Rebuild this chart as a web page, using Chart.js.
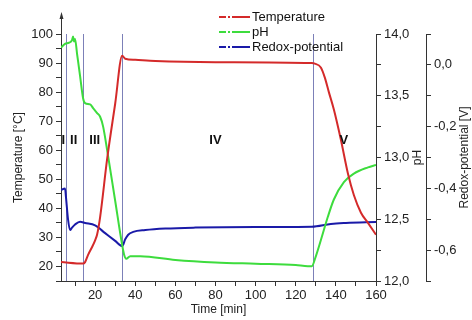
<!DOCTYPE html>
<html>
<head>
<meta charset="utf-8">
<script src="https://cdn.jsdelivr.net/npm/chart.js@4/dist/chart.umd.min.js"></script>
<style>
  body { margin: 0; background: #fff; }
  canvas { display: block; }
</style>
</head>
<body>
<canvas id="chart" width="472" height="320"></canvas>
<script>
// temperature (left axis)
const tempTime = [3, 14, 15, 16.5, 18.5, 20, 21, 22.5, 26, 30, 33.5, 35, 40, 50, 80, 128, 129.5, 132.5, 134.5, 136.5, 139, 142.5, 146, 149, 152.5, 156, 160];
const tempValues = [21.5, 21, 21.5, 24, 26.7, 29, 31, 37, 57, 76, 92.5, 91.5, 91.1, 90.7, 90.3, 90, 89.8, 88.5, 85, 80, 74, 63.6, 52, 44.5, 38.5, 35, 30.9];

// pH (first right axis)
const phTime = [3, 5, 7, 8.5, 9, 9.5, 10, 11, 12.5, 14, 15, 17.5, 19, 21, 22.5, 24, 26, 30, 33.5, 34.5, 35.5, 37.5, 42.5, 60, 80, 100, 120, 126, 128, 130, 132.5, 136, 139, 144, 149, 156, 160];
const phValues = [13.89, 13.92, 13.93, 13.95, 13.98, 13.94, 13.96, 13.84, 13.66, 13.48, 13.44, 13.43, 13.40, 13.36, 13.33, 13.25, 13.06, 12.65, 12.29, 12.21, 12.18, 12.2, 12.2, 12.17, 12.15, 12.14, 12.13, 12.12, 12.12, 12.2, 12.33, 12.52, 12.66, 12.8, 12.87, 12.92, 12.94];

// redox potential (second right axis)
const redoxTime = [3, 5, 5.5, 6.5, 7.5, 8.5, 10, 12.5, 15, 20, 25, 30, 33.5, 35, 36.5, 39, 45, 55, 70, 100, 128, 137.5, 145, 160];
const redoxValues = [-0.405, -0.40, -0.43, -0.50, -0.535, -0.527, -0.517, -0.508, -0.512, -0.52, -0.545, -0.57, -0.587, -0.565, -0.55, -0.541, -0.535, -0.53, -0.527, -0.525, -0.524, -0.515, -0.512, -0.509];

// phase boundaries and labels
const phaseLines = [5.3, 14.2, 33.5, 128.8];
const phaseLabels = ['I', 'II', 'III', 'IV', 'V'];
const phaseLabelTime = [4.2, 9.3, 19.8, 80, 144];

const xTicks = [10, 20, 30, 40, 50, 60, 70, 80, 90, 100, 110, 120, 130, 140, 150, 160];
const tempTicks = [15, 20, 25, 30, 35, 40, 45, 50, 55, 60, 65, 70, 75, 80, 85, 90, 95, 100];
const phTicks = [12, 12.25, 12.5, 12.75, 13, 13.25, 13.5, 13.75, 14];
const redoxTicks = [-0.7, -0.6, -0.5, -0.4, -0.3, -0.2, -0.1, 0, 0.1];

const RED = '#d42a2a';
const GREEN = '#3ddc3d';
const BLUE = '#1a1aa8';
const AXIS = '#333';
const FONT = "'Liberation Sans', Arial, sans-serif";

function pairs(xs, ys) {
  return xs.map((x, i) => ({ x: x, y: ys[i] }));
}
function comma(v, digits) {
  return v.toFixed(digits).replace('.', ',');
}
function fixed(list) {
  return scale => { scale.ticks = list.map(v => ({ value: v })); };
}

const decorations = {
  id: 'decorations',
  beforeDatasetsDraw(chart) {
    const ctx = chart.ctx, x = chart.scales.x, a = chart.chartArea;
    ctx.save();
    ctx.strokeStyle = '#7c80b8';
    ctx.lineWidth = 1;
    phaseLines.forEach(t => {
      const px = Math.round(x.getPixelForValue(t)) + 0.5;
      ctx.beginPath();
      ctx.moveTo(px, a.top);
      ctx.lineTo(px, a.bottom);
      ctx.stroke();
    });
    ctx.restore();
  },
  afterDraw(chart) {
    const ctx = chart.ctx, a = chart.chartArea;
    const x = chart.scales.x, yT = chart.scales.yTemp;
    ctx.save();

    // arrow on top of left axis
    ctx.strokeStyle = AXIS;
    ctx.fillStyle = AXIS;
    ctx.lineWidth = 1;
    ctx.beginPath();
    ctx.moveTo(a.left + 0.5, a.top);
    ctx.lineTo(a.left + 0.5, 17);
    ctx.stroke();
    ctx.beginPath();
    ctx.moveTo(a.left + 0.5, 12);
    ctx.lineTo(a.left - 1.5, 19);
    ctx.lineTo(a.left + 2.5, 19);
    ctx.closePath();
    ctx.fill();

    // phase numerals
    ctx.fillStyle = '#111';
    ctx.font = 'bold 13px ' + FONT;
    ctx.textAlign = 'center';
    ctx.textBaseline = 'middle';
    phaseLabels.forEach((s, i) => {
      ctx.fillText(s, x.getPixelForValue(phaseLabelTime[i]), yT.getPixelForValue(63.5));
    });

    // right axis titles, reading bottom to top
    ctx.fillStyle = '#222';
    ctx.font = '12px ' + FONT;
    const midY = (a.top + a.bottom) / 2;
    [['pH', 418], ['Redox-potential [V]', 465]].forEach(([txt, px]) => {
      ctx.save();
      ctx.translate(px, midY);
      ctx.rotate(-Math.PI / 2);
      ctx.fillText(txt, 0, 0);
      ctx.restore();
    });

    // legend with dash-dot samples
    const items = [['Temperature', RED], ['pH', GREEN], ['Redox-potential', BLUE]];
    ctx.font = '13px ' + FONT;
    ctx.textAlign = 'left';
    items.forEach(([txt, col], i) => {
      const ly = 17 + i * 15;
      ctx.strokeStyle = col;
      ctx.lineWidth = 2;
      [[219, 226], [228, 230], [232, 250]].forEach(([s, e]) => {
        ctx.beginPath();
        ctx.moveTo(s, ly);
        ctx.lineTo(e, ly);
        ctx.stroke();
      });
      ctx.fillStyle = '#111';
      ctx.fillText(txt, 252, ly);
    });
    ctx.restore();
  }
};

const lineStyle = {
  pointRadius: 0,
  borderWidth: 2,
  cubicInterpolationMode: 'monotone',
  fill: false
};

const axisBase = {
  grid: { drawOnChartArea: false, drawTicks: true, tickLength: 5, color: AXIS },
  border: { display: true, color: AXIS, width: 1 },
};

new Chart(document.getElementById('chart'), {
  type: 'line',
  data: {
    datasets: [
      Object.assign({ label: 'Temperature', data: pairs(tempTime, tempValues), borderColor: RED, yAxisID: 'yTemp' }, lineStyle),
      Object.assign({ label: 'pH', data: pairs(phTime, phValues), borderColor: GREEN, yAxisID: 'yPH' }, lineStyle),
      Object.assign({ label: 'Redox-potential', data: pairs(redoxTime, redoxValues), borderColor: BLUE, yAxisID: 'yRedox' }, lineStyle)
    ]
  },
  options: {
    responsive: false,
    animation: false,
    devicePixelRatio: 1,
    layout: { padding: { top: 34, left: 0, right: 0, bottom: 0 } },
    plugins: { legend: { display: false }, tooltip: { enabled: false } },
    scales: {
      x: Object.assign({}, axisBase, {
        type: 'linear',
        position: 'bottom',
        min: 3,
        max: 160,
        afterBuildTicks: fixed(xTicks),
        afterFit: s => { s.height = 39; },
        ticks: {
          autoSkip: false, maxRotation: 0, padding: 2, color: '#222',
          font: { family: FONT, size: 13 },
          callback: v => (v % 20 === 0 ? String(v) : '')
        },
        title: { display: true, text: 'Time [min]', color: '#222', font: { family: FONT, size: 12 }, padding: { top: 0, bottom: 3 } }
      }),
      yTemp: Object.assign({}, axisBase, {
        position: 'left',
        min: 15,
        max: 100,
        afterBuildTicks: fixed(tempTicks),
        afterFit: s => { s.width = 61; },
        ticks: {
          autoSkip: false, color: '#222', padding: 3,
          font: { family: FONT, size: 13 },
          callback: v => (v % 10 === 0 ? String(v) : '')
        },
        title: { display: true, text: 'Temperature [°C]', color: '#222', font: { family: FONT, size: 12 }, padding: { top: 11, bottom: 0 } }
      }),
      yPH: Object.assign({}, axisBase, {
        position: 'right',
        weight: 0,
        min: 12,
        max: 14,
        afterBuildTicks: fixed(phTicks),
        afterFit: s => { s.width = 50; },
        ticks: {
          autoSkip: false, color: '#222', padding: 3,
          font: { family: FONT, size: 13 },
          callback: v => (Math.abs(v * 2 - Math.round(v * 2)) < 1e-6 ? comma(v, 1) : '')
        }
      }),
      yRedox: Object.assign({}, axisBase, {
        position: 'right',
        weight: 1,
        min: -0.7,
        max: 0.1,
        afterBuildTicks: fixed(redoxTicks),
        afterFit: s => { s.width = 46; },
        ticks: {
          autoSkip: false, color: '#222', padding: 3,
          font: { family: FONT, size: 13 },
          callback: v => {
            const k = Math.round(v * 10);
            return (k % 2 === 0 && k <= 0) ? comma(k / 10, 1) : '';
          }
        }
      })
    }
  },
  plugins: [decorations]
});
</script>
</body>
</html>
